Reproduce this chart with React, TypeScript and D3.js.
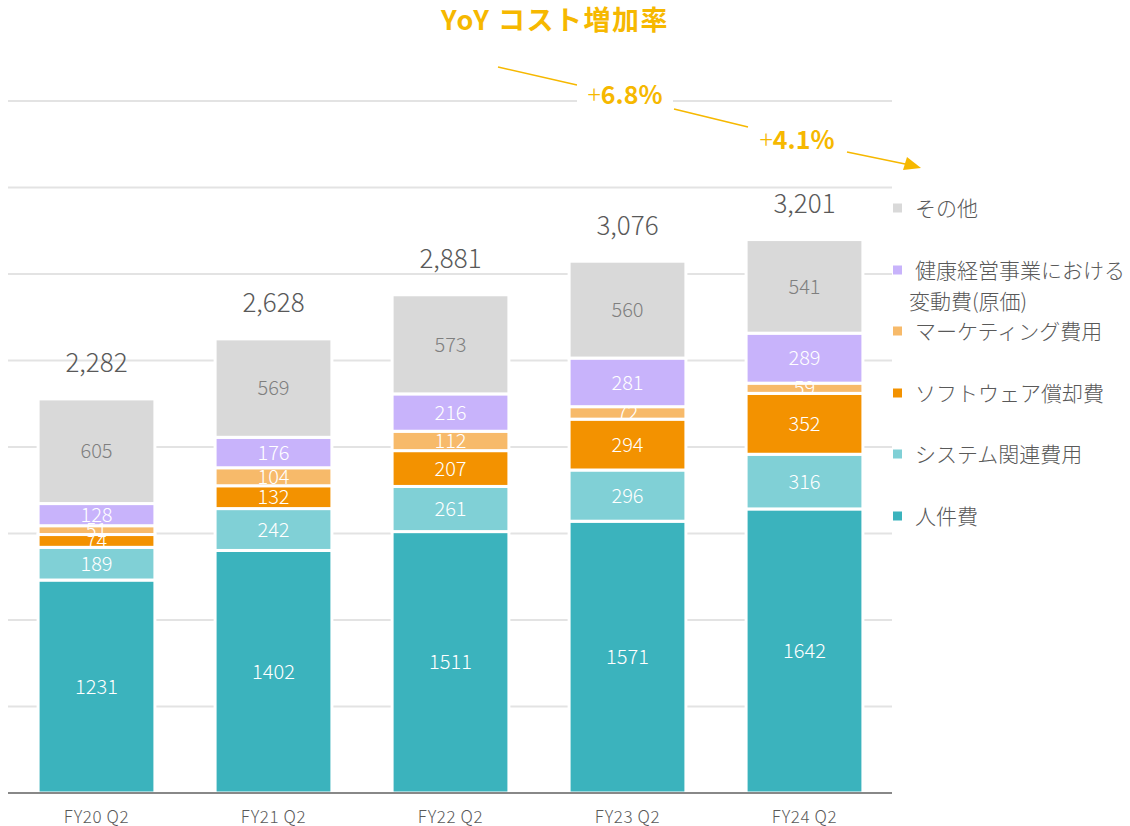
import React, { useEffect, useRef } from 'react';
import * as d3 from 'd3';

const categories = ['FY20 Q2', 'FY21 Q2', 'FY22 Q2', 'FY23 Q2', 'FY24 Q2'];
const seriesNames = ['人件費', 'システム関連費用', 'ソフトウェア償却費', 'マーケティング費用', '健康経営事業における変動費(原価)', 'その他'];
const jinken = [1231, 1402, 1511, 1571, 1642];
const system = [189, 242, 261, 296, 316];
const software = [74, 132, 207, 294, 352];
const marketing = [51, 104, 112, 72, 59];
const kenko = [128, 176, 216, 281, 289];
const sonota = [605, 569, 573, 560, 541];
const totals = [2282, 2628, 2881, 3076, 3201];
const yTicks = [0, 500, 1000, 1500, 2000, 2500, 3000, 3500, 4000];
const yoyLabels = ['6.8%', '4.1%'];
const colors = ['#3bb3bd', '#80d0d6', '#f39200', '#f7ba6a', '#c8b3fb', '#d9d9d9'];

const FONT = '"Noto Sans CJK JP", "Noto Sans", sans-serif';

const App = () => {
  const svgRef = useRef<SVGSVGElement>(null);

  useEffect(() => {
    const svg = d3.select(svgRef.current);
    svg.selectAll('*').remove();

    const width = 1130;
    const height = 826;
    const left = 8;
    const right = 893;
    const baseY = 793;
    const topY = 101;

    const x = d3.scaleBand().domain(categories).range([left, right]).paddingInner(0.34).paddingOuter(0.17);
    const y = d3.scaleLinear().domain([0, 4000]).range([baseY, topY]);

    const rows = categories.map((c, i) => ({
      cat: c,
      s0: jinken[i], s1: system[i], s2: software[i], s3: marketing[i], s4: kenko[i], s5: sonota[i],
    }));
    const keys = ['s0', 's1', 's2', 's3', 's4', 's5'];
    const stacked = d3.stack<any>().keys(keys)(rows);

    svg.attr('viewBox', `0 0 ${width} ${height}`).style('font-family', FONT);

    // gridlines
    svg.append('g')
      .selectAll('line')
      .data(yTicks.slice(1))
      .enter()
      .append('line')
      .attr('x1', left)
      .attr('x2', right - 1)
      .attr('y1', d => y(d))
      .attr('y2', d => y(d))
      .attr('stroke', '#e3e3e3')
      .attr('stroke-width', 2);

    // bars
    const layers = svg.append('g')
      .selectAll('g')
      .data(stacked)
      .enter()
      .append('g')
      .attr('fill', (d, i) => colors[i]);

    layers.selectAll('rect')
      .data(d => d)
      .enter()
      .append('rect')
      .attr('x', d => x(d.data.cat)!)
      .attr('width', x.bandwidth())
      .attr('y', d => y(d[1]))
      .attr('height', d => y(d[0]) - y(d[1]))
      .attr('stroke', 'white')
      .attr('stroke-width', 3);

    // segment labels
    stacked.forEach((layer, li) => {
      svg.append('g')
        .selectAll('text')
        .data(layer)
        .enter()
        .append('text')
        .attr('x', d => x(d.data.cat)! + x.bandwidth() / 2)
        .attr('y', d => (y(d[0]) + y(d[1])) / 2)
        .attr('dy', '0.36em')
        .attr('text-anchor', 'middle')
        .style('font-size', '20px')
        .style('font-weight', 300)
        .attr('fill', li === 5 ? '#7f7f7f' : '#ffffff')
        .text(d => d[1] - d[0]);
    });

    // totals
    svg.append('g')
      .selectAll('text')
      .data(categories)
      .enter()
      .append('text')
      .attr('x', d => x(d)! + x.bandwidth() / 2)
      .attr('y', (d, i) => y(d3.sum(stacked, l => l[i][1] - l[i][0])) - 36)
      .attr('dy', '0.36em')
      .attr('text-anchor', 'middle')
      .style('font-size', '26px')
      .style('font-weight', 300)
      .attr('fill', '#595959')
      .text((d, i) => d3.format(',')(totals[i]));

    // axis
    svg.append('line')
      .attr('x1', left)
      .attr('x2', right - 1)
      .attr('y1', baseY)
      .attr('y2', baseY)
      .attr('stroke', '#888888')
      .attr('stroke-width', 2);

    svg.append('g')
      .selectAll('text')
      .data(categories)
      .enter()
      .append('text')
      .attr('x', d => x(d)! + x.bandwidth() / 2)
      .attr('y', 817)
      .attr('dy', '0.36em')
      .attr('text-anchor', 'middle')
      .style('font-size', '17px')
      .style('letter-spacing', '0.6px')
      .style('font-weight', 300)
      .attr('fill', '#595959')
      .text(d => d);

    // legend
    const legendY = [516, 454, 393, 331, 270, 208];
    const legend = svg.append('g');
    seriesNames.forEach((name, i) => {
      const ly = legendY[i];
      legend.append('rect')
        .attr('x', 893)
        .attr('y', ly - 4.5)
        .attr('width', 9)
        .attr('height', 9)
        .attr('fill', colors[i]);
      const lines = i === 4 ? ['健康経営事業における', '変動費(原価)'] : [name];
      lines.forEach((t, j) => {
        legend.append('text')
          .attr('x', j === 0 ? 915 : 909)
          .attr('y', ly + j * 31)
          .attr('dy', '0.36em')
          .style('font-size', '21px')
          .style('font-weight', 300)
          .attr('fill', '#595959')
          .text(t);
      });
    });

    // YoY annotation
    const gold = '#f6b800';
    svg.append('text')
      .attr('x', 555)
      .attr('y', 20)
      .attr('dy', '0.36em')
      .attr('text-anchor', 'middle')
      .style('font-size', '27px')
      .style('letter-spacing', '1.5px')
      .style('font-weight', 700)
      .attr('fill', gold)
      .text('YoY コスト増加率');

    const segs = [
      [498, 67, 577, 85],
      [674, 109, 748, 127],
      [847, 152, 910, 165],
    ];
    segs.forEach(s => {
      svg.append('line')
        .attr('x1', s[0]).attr('y1', s[1]).attr('x2', s[2]).attr('y2', s[3])
        .attr('stroke', gold).attr('stroke-width', 1.6);
    });
    svg.append('path')
      .attr('d', 'M921,168 L903,170 L907,157 Z')
      .attr('fill', gold);

    const yoyPos = [[625, 95], [797, 140]];
    yoyLabels.forEach((t, i) => {
      svg.append('rect')
        .attr('x', yoyPos[i][0] - 48)
        .attr('y', yoyPos[i][1] - 14)
        .attr('width', 96)
        .attr('height', 28)
        .attr('fill', 'white');
      const tx = svg.append('text')
        .attr('x', yoyPos[i][0])
        .attr('y', yoyPos[i][1])
        .attr('dy', '0.36em')
        .attr('text-anchor', 'middle')
        .style('font-size', '25px')
        .attr('fill', gold);
      tx.append('tspan').style('font-weight', 300).text('+');
      tx.append('tspan').style('font-weight', 700).text(t);
    });
  }, []);

  return (
    <div style={{ position: 'absolute', left: 0, top: 0, width: 1130, height: 826, overflow: 'hidden' }}>
      <svg ref={svgRef} width={1130} height={826} style={{ display: 'block' }} />
    </div>
  );
};

export default App;
